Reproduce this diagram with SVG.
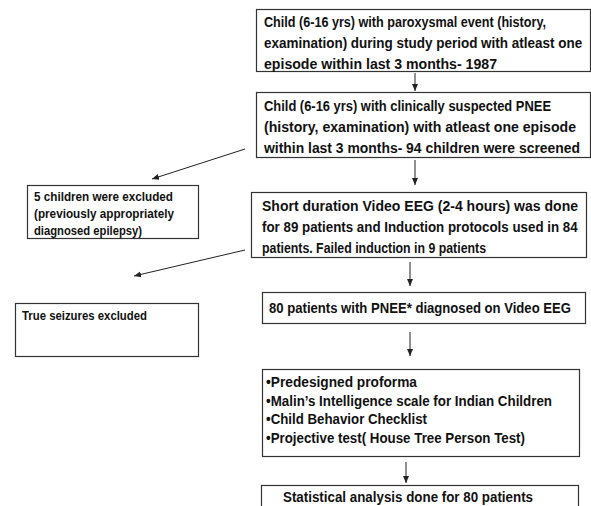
<svg xmlns="http://www.w3.org/2000/svg" width="591" height="506" viewBox="0 0 591 506">
<style>
.box{fill:#fff;stroke:#333;stroke-width:1.2}
.t{font-family:"Liberation Sans",Arial,sans-serif;font-weight:bold;font-size:14px;fill:#111}
.s{font-family:"Liberation Sans",Arial,sans-serif;font-weight:bold;font-size:13px;fill:#111}
.c{stroke:#222;stroke-width:1;fill:none;marker-end:url(#ah)}
</style>
<defs>
<marker id="ah" markerWidth="8" markerHeight="8" refX="7" refY="4" orient="auto" markerUnits="userSpaceOnUse">
<path d="M0,1 L7,4 L0,7 Z" fill="#222"/>
</marker>
</defs>
<rect width="591" height="506" fill="#fff"/>
<g id="connectors">
<line class="c" x1="415" y1="73" x2="415" y2="91"/>
<line class="c" x1="415" y1="160" x2="415" y2="185"/>
<line class="c" x1="410" y1="262" x2="410" y2="286"/>
<line class="c" x1="410" y1="332" x2="410" y2="356"/>
<line class="c" x1="406" y1="462" x2="406" y2="483"/>
<line class="c" x1="245" y1="149" x2="152" y2="179"/>
<line class="c" x1="245" y1="250" x2="134" y2="276"/>
</g>
<g id="n1">
<rect class="box" x="256.5" y="9.5" width="334" height="62"/>
<text class="t" x="264" y="27" textLength="282" lengthAdjust="spacingAndGlyphs">Child (6-16 yrs) with paroxysmal event (history,</text>
<text class="t" transform="translate(264,48) scale(0.86,1)" x="0" y="0" textLength="370" lengthAdjust="spacingAndGlyphs">examination) during study period with atleast one</text>
<text class="t" x="264" y="69" textLength="233" lengthAdjust="spacingAndGlyphs">episode within last 3 months- 1987</text>
</g>
<g id="n2">
<rect class="box" x="256.5" y="92.5" width="334" height="65"/>
<text class="t" x="264" y="111" textLength="287" lengthAdjust="spacingAndGlyphs">Child (6-16 yrs) with clinically suspected PNEE</text>
<text class="t" x="264" y="132" textLength="312" lengthAdjust="spacingAndGlyphs">(history, examination) with atleast one episode</text>
<text class="t" x="264" y="153" textLength="316" lengthAdjust="spacingAndGlyphs">within last 3 months- 94 children were screened</text>
</g>
<g id="n3">
<rect class="box" x="251.5" y="192.5" width="335" height="65"/>
<text class="t" x="262" y="211" textLength="316" lengthAdjust="spacingAndGlyphs">Short duration Video EEG (2-4 hours) was done</text>
<text class="t" transform="translate(262,232) scale(0.86,1)" x="0" y="0" textLength="367" lengthAdjust="spacingAndGlyphs">for 89 patients and Induction protocols used in 84</text>
<text class="t" x="262" y="253" textLength="224" lengthAdjust="spacingAndGlyphs">patients. Failed induction in 9 patients</text>
</g>
<g id="n4">
<rect class="box" x="262.5" y="292.5" width="323" height="31"/>
<text class="t" x="269" y="313" textLength="302" lengthAdjust="spacingAndGlyphs">80 patients with PNEE* diagnosed on Video EEG</text>
</g>
<g id="n5">
<rect class="box" x="262.5" y="369.5" width="317" height="87"/>
<text class="t" x="266" y="387" textLength="151" lengthAdjust="spacingAndGlyphs">•Predesigned proforma</text>
<text class="t" x="266" y="406" textLength="286" lengthAdjust="spacingAndGlyphs">•Malin’s Intelligence scale for Indian Children</text>
<text class="t" x="266" y="424" textLength="161" lengthAdjust="spacingAndGlyphs">•Child Behavior Checklist</text>
<text class="t" x="266" y="443" textLength="259" lengthAdjust="spacingAndGlyphs">•Projective test( House Tree Person Test)</text>
</g>
<g id="n6">
<rect class="box" x="261.5" y="485.5" width="317" height="30"/>
<text class="t" x="283" y="502" textLength="250" lengthAdjust="spacingAndGlyphs">Statistical analysis done for 80 patients</text>
</g>
<g id="n7">
<rect class="box" x="27.5" y="185.5" width="171" height="53"/>
<text class="s" x="34" y="201" textLength="139" lengthAdjust="spacingAndGlyphs">5 children were excluded</text>
<text class="s" x="34" y="218" textLength="140" lengthAdjust="spacingAndGlyphs">(previously appropriately</text>
<text class="s" x="34" y="235" textLength="108" lengthAdjust="spacingAndGlyphs">diagnosed epilepsy)</text>
</g>
<g id="n8">
<rect class="box" x="15.5" y="303.5" width="183" height="53"/>
<text class="s" x="22" y="320" textLength="125" lengthAdjust="spacingAndGlyphs">True seizures excluded</text>
</g>
</svg>
